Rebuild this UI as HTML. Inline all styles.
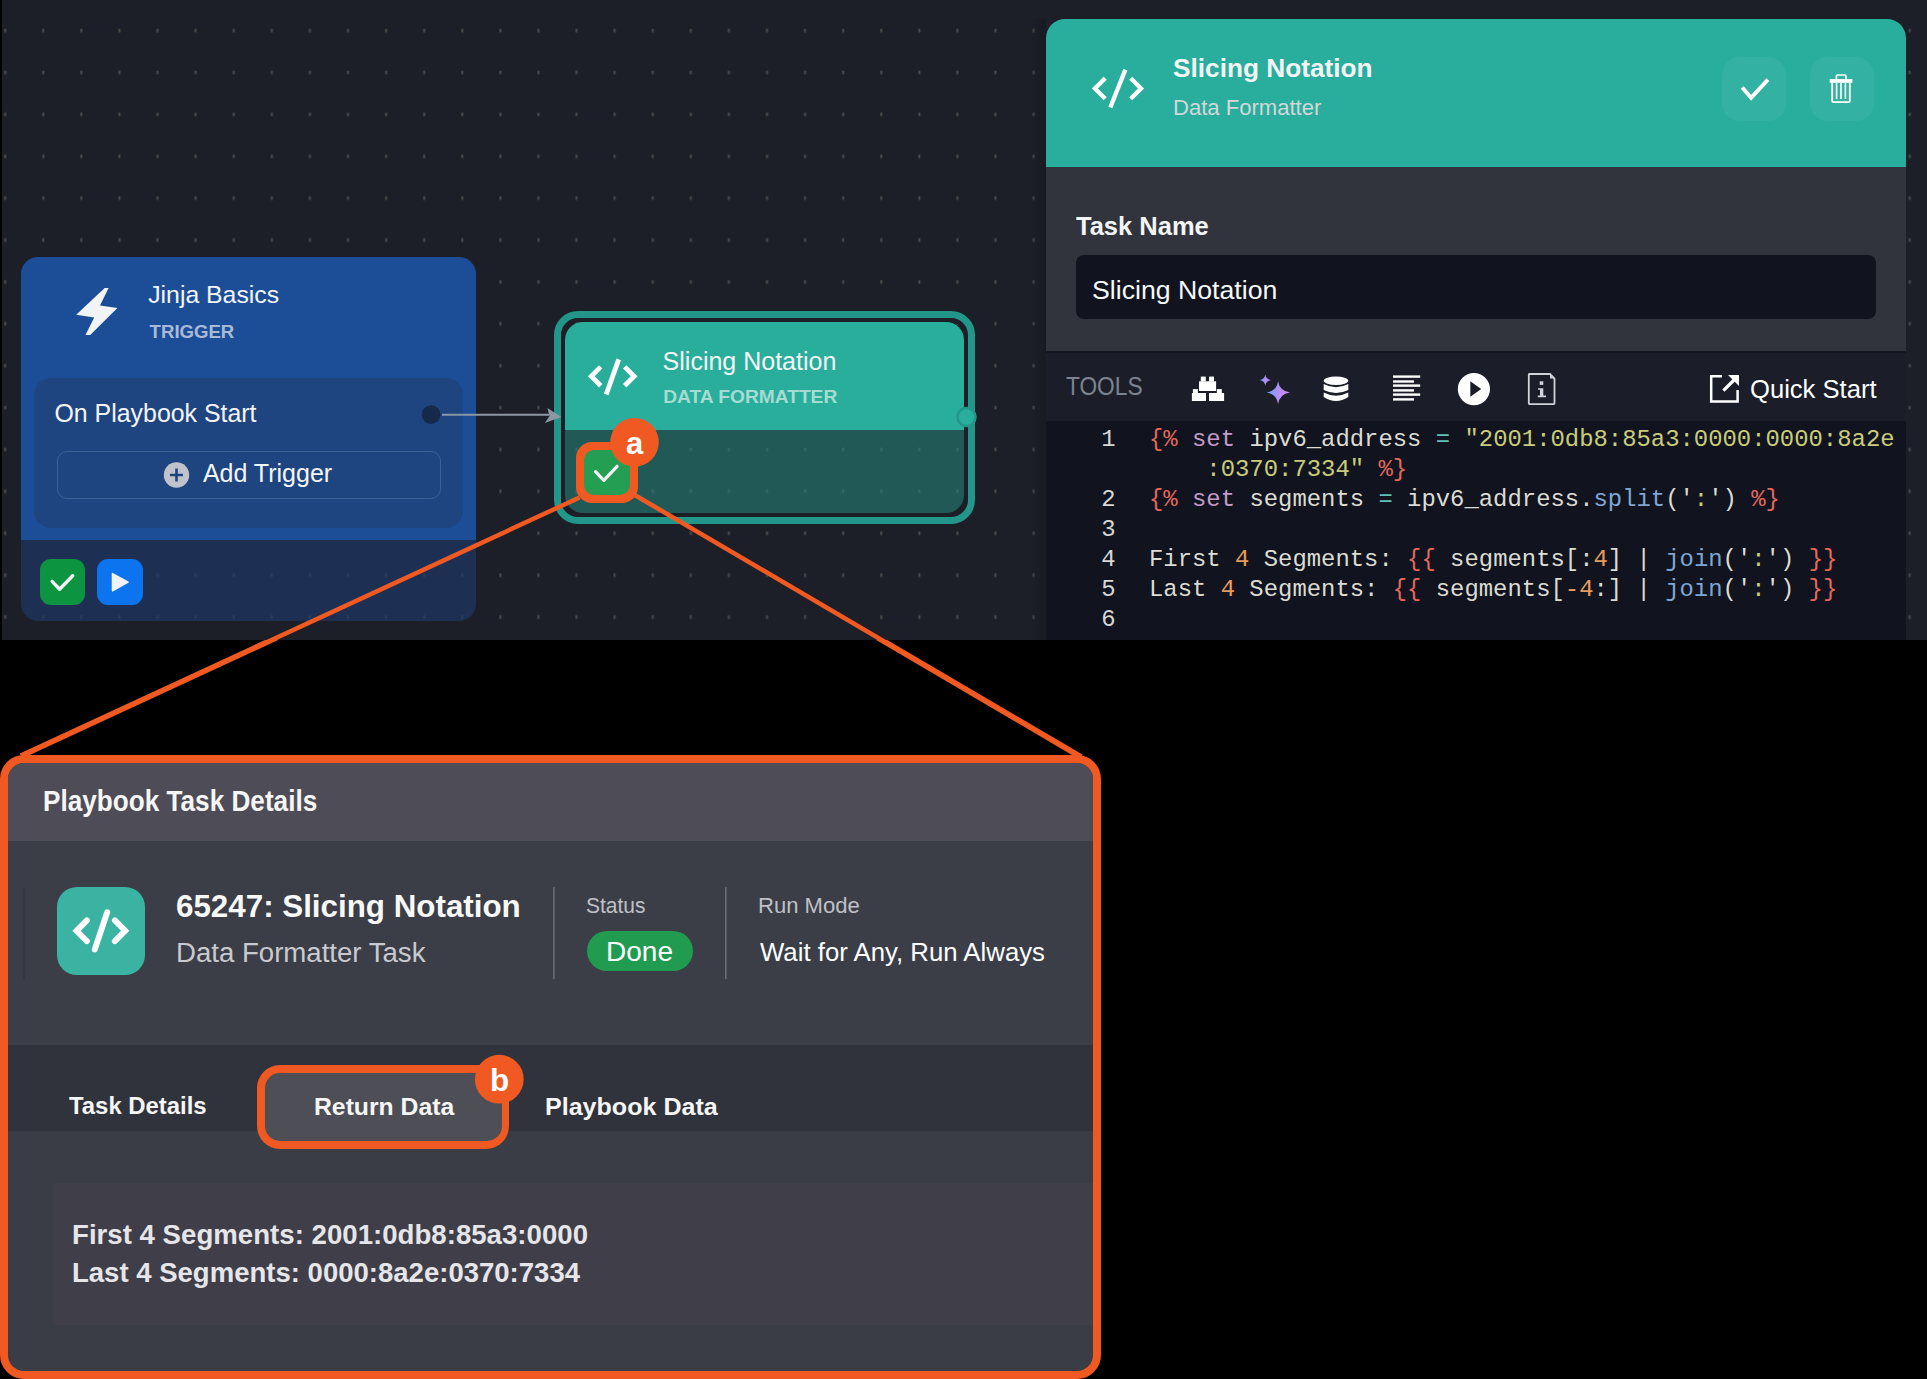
<!DOCTYPE html><html><head><meta charset="utf-8"><style>
*{margin:0;padding:0;box-sizing:border-box}
html,body{width:1927px;height:1379px;background:#000;overflow:hidden;position:relative;font-family:"Liberation Sans",sans-serif}
.a{position:absolute}
.t{position:absolute;white-space:pre;line-height:1}
</style></head><body>
<div class="a" style="left:2px;top:0;width:1925px;height:640px;background:#1c1f28;overflow:hidden">
<svg class="a" style="left:-2px;top:0" width="1927" height="640"><defs><pattern id="dp" x="0" y="0" width="38.09" height="41.89" patternUnits="userSpaceOnUse"><rect x="4.2" y="28.8" width="2" height="3.6" fill="#4b4b48"/></pattern></defs><rect x="0" y="0" width="1927" height="640" fill="url(#dp)"/></svg>
</div>
<div class="a" style="left:21px;top:257px;width:455px;height:364px;border-radius:17px;overflow:hidden"><div class="a" style="left:0;top:0;width:455px;height:283px;background:#1c4e98"></div><div class="a" style="left:0;top:283px;width:455px;height:81px;background:rgba(30,55,100,0.72)"></div></div>
<svg class="a" style="left:0;top:0" width="480" height="640"><path d="M104.7 288 L108.6 288 L100 305.4 L117.4 308 L90.2 335 L85.5 335 L94.2 317.6 L76.2 314.7 Z" fill="#f2f3f5"/></svg>
<div class="t" style="left:148.2px;top:283.0px;font-size:24.80px;color:#f4f5f7;">Jinja Basics</div>
<div class="t" style="left:149.6px;top:323.3px;font-size:18.60px;color:#a9bad8;font-weight:700;">TRIGGER</div>
<div class="a" style="left:34px;top:378.3px;width:429px;height:149.3px;border-radius:17px;background:#1f4580"></div>
<div class="t" style="left:54.5px;top:400.9px;font-size:24.90px;color:#f4f5f7;">On Playbook Start</div>
<div class="a" style="left:56.5px;top:451px;width:384px;height:48px;border-radius:10px;border:1.5px solid #3d5f94"></div>
<svg class="a" style="left:0;top:0" width="480" height="640"><circle cx="176.5" cy="475" r="12.7" fill="#c0c3cb"/><path d="M170 475 H183 M176.5 468.5 V481.5" stroke="#1f4580" stroke-width="2.6"/></svg>
<div class="t" style="left:202.9px;top:461.1px;font-size:25.00px;color:#f4f5f7;">Add Trigger</div>
<svg class="a" style="left:0;top:0" width="1000" height="640"><circle cx="431.1" cy="414.6" r="9.4" fill="#15294a"/></svg>
<div class="a" style="left:39.8px;top:559px;width:45.7px;height:46px;border-radius:11px;background:#0c9441"></div>
<div class="a" style="left:97px;top:559px;width:45.8px;height:46px;border-radius:11px;background:#0b74ee"></div>
<svg class="a" style="left:0;top:0" width="200" height="640"><path d="M52.1 581.4 L59.6 589.2 L72.7 575.8" fill="none" stroke="#f2f3f5" stroke-width="3.4" stroke-linecap="round" stroke-linejoin="round"/><path d="M112.5 573.6 L128.1 582.1 L112.5 590.8 Z" fill="#f2f3f5" stroke="#f2f3f5" stroke-width="1.6" stroke-linejoin="round"/></svg>
<div class="a" style="left:553.5px;top:310.8px;width:421.4px;height:213px;border-radius:24px;border:7.8px solid #23968a"></div>
<div class="a" style="left:561.3px;top:318.6px;width:405.8px;height:197.4px;border-radius:17px;border:3.8px solid #1c1f28"></div>
<div class="a" style="left:565px;top:322px;width:398.5px;height:190.7px;border-radius:18px;overflow:hidden"><div class="a" style="left:0;top:0;width:100%;height:108.2px;background:#29ae9c"></div><div class="a" style="left:0;top:108.2px;width:100%;height:83px;background:rgba(36,129,119,0.6)"></div></div>
<svg class="a" style="left:0;top:0" width="1000" height="640"><path d="M600.70 366.90 L591.30 376.30 L600.70 385.70 M624.70 366.90 L634.10 376.30 L624.70 385.70" fill="none" stroke="#fff" stroke-width="4.8" stroke-linecap="butt" stroke-linejoin="miter"/><path d="M618.7 359.34 L606.2 394.46" stroke="#fff" stroke-width="4.8" stroke-linecap="butt"/><circle cx="966.5" cy="417" r="9" fill="#29ae9c" stroke="#23968a" stroke-width="2.6"/></svg>
<svg class="a" style="left:0;top:0" width="1000" height="640"><path d="M442 414.8 H549" stroke="#8d96a3" stroke-width="2"/><path d="M561.4 417 L547.4 407.9 L549.5 416 L544.8 423 Z" fill="#8d96a3"/></svg>
<div class="t" style="left:662.6px;top:348.6px;font-size:25.00px;color:#f4f5f7;">Slicing Notation</div>
<div class="t" style="left:663.2px;top:386.6px;font-size:19.20px;color:#a6dbd3;font-weight:700;">DATA FORMATTER</div>
<div class="a" style="left:1028px;top:19px;width:18px;height:621px;background:linear-gradient(to right, rgba(10,12,16,0), rgba(10,12,16,0.22))"></div>
<div class="a" style="left:1046px;top:19px;width:860px;height:621px;border-radius:19px 19px 0 0;overflow:hidden;background:#11141e"><div class="a" style="left:0;top:0;width:100%;height:148px;background:#29ad9c"></div><div class="a" style="left:0;top:148px;width:100%;height:184px;background:#31343c"></div><div class="a" style="left:0;top:332px;width:100%;height:1.6px;background:#141720"></div><div class="a" style="left:0;top:333.5px;width:100%;height:68.5px;background:#1b1e28"></div></div>
<svg class="a" style="left:0;top:0" width="1927" height="640"><path d="M1105.18 78.17 L1094.90 88.45 L1105.18 98.73 M1130.72 78.17 L1141.00 88.45 L1130.72 98.73" fill="none" stroke="#fff" stroke-width="4.3" stroke-linecap="butt" stroke-linejoin="miter"/><path d="M1125.4 69.6 L1110.3 107.5" stroke="#fff" stroke-width="4.3" stroke-linecap="butt"/></svg>
<div class="t" style="left:1172.6px;top:55.5px;font-size:25.00px;color:#f3f4f5;font-weight:700;transform:scaleX(1.0485);transform-origin:0 0;">Slicing Notation</div>
<div class="t" style="left:1172.5px;top:97.1px;font-size:22.10px;color:#d3d7d9;transform:scaleX(0.9980);transform-origin:0 0;">Data Formatter</div>
<div class="a" style="left:1722px;top:56.7px;width:63.8px;height:64.4px;border-radius:18px;background:#33b1a3"></div>
<div class="a" style="left:1810px;top:56.7px;width:63.6px;height:64.4px;border-radius:18px;background:#33b1a3"></div>
<svg class="a" style="left:0;top:0" width="1927" height="640"><path d="M1742.2 87.5 L1751.1 97.8 L1767.9 79.6" fill="none" stroke="#fff" stroke-width="3.8"/><rect x="1829.7" y="79.1" width="22.7" height="3.7" fill="#fff"/><path d="M1836.4 79.1 V76.2 Q1836.4 75 1837.6 75 H1844.8 Q1846 75 1846 76.2 V79.1" fill="none" stroke="#fff" stroke-width="1.7"/><path d="M1832.2 82.8 V101 Q1832.2 102.2 1833.4 102.2 H1848.6 Q1849.8 102.2 1849.8 101 V82.8" fill="none" stroke="#fff" stroke-width="1.8"/><path d="M1836.6 83 V99 M1841 83 V99 M1845.4 83 V99" stroke="#fff" stroke-width="1.6"/></svg>
<div class="t" style="left:1075.8px;top:213.7px;font-size:25.30px;color:#f3f4f5;font-weight:700;transform:scaleX(1.0082);transform-origin:0 0;">Task Name</div>
<div class="a" style="left:1075.9px;top:255px;width:800.4px;height:64px;border-radius:8px;background:#11141e"></div>
<div class="t" style="left:1092.4px;top:277.5px;font-size:25.40px;color:#f6f7f8;transform:scaleX(1.0505);transform-origin:0 0;">Slicing Notation</div>
<div class="t" style="left:1065.7px;top:373.7px;font-size:25.40px;color:#7d8390;transform:scaleX(0.8943);transform-origin:0 0;">TOOLS</div>
<div class="t" style="left:1749.7px;top:377.2px;font-size:25.60px;color:#ffffff;transform:scaleX(0.9999);transform-origin:0 0;">Quick Start</div>
<svg class="a" style="left:0;top:0" width="1927" height="640"><defs><linearGradient id="sg" x1="0" y1="0" x2="1" y2="0"><stop offset="0" stop-color="#62a6f8"/><stop offset="0.55" stop-color="#b98cf6"/><stop offset="1" stop-color="#cf8af0"/></linearGradient></defs><g fill="#fff"><rect x="1199" y="381.3" width="17.1" height="9.7"/><rect x="1200.8" y="376.6" width="5" height="5"/><rect x="1209" y="376.6" width="5" height="5"/><rect x="1191.9" y="393" width="14.1" height="8"/><rect x="1192.9" y="389.1" width="5" height="4"/><rect x="1209" y="393" width="15.1" height="8"/><rect x="1216.8" y="389.1" width="5" height="4"/></g><path d="M1278.1 381.3 Q1279.5 391 1290 392.4 Q1279.5 394 1278.1 404.1 Q1276.7 394 1266.7 392.4 Q1276.7 391 1278.1 381.3 Z" fill="url(#sg)"/><path d="M1265.3 374.5 Q1266 379.3 1271 380 Q1266 380.8 1265.3 385.5 Q1264.6 380.8 1259.6 380 Q1264.6 379.3 1265.3 374.5 Z" fill="url(#sg)"/><g fill="#fff"><ellipse cx="1336" cy="380.8" rx="12.3" ry="4.2"/><path d="M1323.7 384 Q1336 390.5 1348.3 384 V390 Q1336 396 1323.7 390 Z"/><path d="M1323.7 392.6 Q1336 399 1348.3 392.6 V397 Q1336 405 1323.7 397 Z"/></g><g fill="#fff"><rect x="1393" y="375.4" width="27.2" height="2.4"/><rect x="1393" y="380.3" width="21" height="2.4"/><rect x="1393" y="384.4" width="27.2" height="2.4"/><rect x="1393" y="389.2" width="21" height="2.4"/><rect x="1393" y="393.4" width="27.2" height="2.4"/><rect x="1393" y="398.2" width="21" height="2.4"/></g><circle cx="1473.9" cy="389.1" r="16.1" fill="#fff"/><path d="M1470.3 381.3 L1481.2 389.1 L1470.3 396.8 Z" fill="#1b1e28"/><path d="M1529.3 374 H1550 L1554.5 378.5 V403.3 Q1554.5 404.2 1553.6 404.2 H1529.3 Q1528.8 404.2 1528.8 403.3 V374.9 Q1528.8 374 1529.3 374 Z" fill="none" stroke="#d0d3d8" stroke-width="1.8"/><path d="M1550 374 V378.5 H1554.5 Z" fill="#d0d3d8"/><rect x="1539.7" y="381.3" width="3.6" height="3.6" fill="#d0d3d8"/><path d="M1538 388.2 H1543.3 V395.6 H1546 V397.2 H1537.8 V395.6 H1540 V389.8 H1538 Z" fill="#d0d3d8"/><path d="M1722 376.2 H1711.2 V401.6 H1737.6 V390" fill="none" stroke="#fff" stroke-width="2.5"/><path d="M1723.4 390.6 L1735 379" stroke="#fff" stroke-width="3.2"/><path d="M1728 375 H1739 V386 Z" fill="#fff"/></svg>
<div class="t" style="left:1101.2px;top:428.3px;width:14.3px;text-align:right;font-family:'Liberation Mono',monospace;font-size:23.9px;color:#d6d6d6">1</div>
<div class="t" style="left:1101.2px;top:488.2px;width:14.3px;text-align:right;font-family:'Liberation Mono',monospace;font-size:23.9px;color:#d6d6d6">2</div>
<div class="t" style="left:1101.2px;top:518.2px;width:14.3px;text-align:right;font-family:'Liberation Mono',monospace;font-size:23.9px;color:#d6d6d6">3</div>
<div class="t" style="left:1101.2px;top:548.2px;width:14.3px;text-align:right;font-family:'Liberation Mono',monospace;font-size:23.9px;color:#d6d6d6">4</div>
<div class="t" style="left:1101.2px;top:578.2px;width:14.3px;text-align:right;font-family:'Liberation Mono',monospace;font-size:23.9px;color:#d6d6d6">5</div>
<div class="t" style="left:1101.2px;top:608.2px;width:14.3px;text-align:right;font-family:'Liberation Mono',monospace;font-size:23.9px;color:#d6d6d6">6</div>
<div class="t" style="left:1149.00px;top:428.3px;font-family:'Liberation Mono',monospace;font-size:23.9px"><span style="color:#e4675d">{%</span><span style="color:#dcdcd4"> </span><span style="color:#c49bc8">set</span><span style="color:#dcdcd4"> ipv6_address </span><span style="color:#5ec3b7">=</span><span style="color:#dcdcd4"> </span><span style="color:#c9cd7a">"2001:0db8:85a3:0000:0000:8a2e</span></div>
<div class="t" style="left:1206.36px;top:458.3px;font-family:'Liberation Mono',monospace;font-size:23.9px"><span style="color:#c9cd7a">:0370:7334"</span><span style="color:#dcdcd4"> </span><span style="color:#e4675d">%}</span></div>
<div class="t" style="left:1149.00px;top:488.2px;font-family:'Liberation Mono',monospace;font-size:23.9px"><span style="color:#e4675d">{%</span><span style="color:#dcdcd4"> </span><span style="color:#c49bc8">set</span><span style="color:#dcdcd4"> segments </span><span style="color:#5ec3b7">=</span><span style="color:#dcdcd4"> ipv6_address.</span><span style="color:#7fa7d6">split</span><span style="color:#dcdcd4">('</span><span style="color:#c9cd7a">:</span><span style="color:#dcdcd4">')</span><span style="color:#dcdcd4"> </span><span style="color:#e4675d">%}</span></div>
<div class="t" style="left:1149.00px;top:548.2px;font-family:'Liberation Mono',monospace;font-size:23.9px"><span style="color:#dcdcd4">First </span><span style="color:#e69a5b">4</span><span style="color:#dcdcd4"> Segments: </span><span style="color:#e4675d">{{</span><span style="color:#dcdcd4"> segments[:</span><span style="color:#e69a5b">4</span><span style="color:#dcdcd4">] | </span><span style="color:#7fa7d6">join</span><span style="color:#dcdcd4">('</span><span style="color:#c9cd7a">:</span><span style="color:#dcdcd4">')</span><span style="color:#dcdcd4"> </span><span style="color:#e4675d">}}</span></div>
<div class="t" style="left:1149.00px;top:578.2px;font-family:'Liberation Mono',monospace;font-size:23.9px"><span style="color:#dcdcd4">Last </span><span style="color:#e69a5b">4</span><span style="color:#dcdcd4"> Segments: </span><span style="color:#e4675d">{{</span><span style="color:#dcdcd4"> segments[</span><span style="color:#e69a5b">-4</span><span style="color:#dcdcd4">:] | </span><span style="color:#7fa7d6">join</span><span style="color:#dcdcd4">('</span><span style="color:#c9cd7a">:</span><span style="color:#dcdcd4">')</span><span style="color:#dcdcd4"> </span><span style="color:#e4675d">}}</span></div>
<svg class="a" style="left:0;top:0" width="1927" height="1379"><defs><clipPath id="ctop"><rect x="0" y="0" width="1927" height="640"/></clipPath><clipPath id="cbot"><rect x="0" y="640" width="1927" height="739"/></clipPath></defs><g clip-path="url(#ctop)"><path d="M579.5 497.5 L21 756" stroke="#f05a22" stroke-width="4.5"/><path d="M633 494 L1081 757" stroke="#f05a22" stroke-width="4.5"/></g><g clip-path="url(#cbot)"><path d="M579.5 497.5 L21 756" stroke="#f05a22" stroke-width="5.6"/><path d="M633 494 L1081 757" stroke="#f05a22" stroke-width="5.6"/></g></svg>
<div class="a" style="left:0;top:755px;width:1101px;height:624px;border-radius:24px;background:#f05a22"></div>
<div class="a" style="left:8.2px;top:762.8px;width:1084.6px;height:608.2px;border-radius:16px;overflow:hidden;background:#3a3d46"><div class="a" style="left:0;top:0;width:100%;height:78.2px;background:#4e4d57"></div><div class="a" style="left:0;top:78.2px;width:100%;height:204px;background:#3b3e47"></div><div class="a" style="left:0;top:282.2px;width:100%;height:85.8px;background:#30333c"></div><div class="a" style="left:45px;top:420.5px;width:1040px;height:141.6px;background:#403f49"></div></div>
<div class="a" style="left:23px;top:887px;width:1.8px;height:91.5px;background:#36373c"></div>
<div class="t" style="left:42.6px;top:787.1px;font-size:28.80px;color:#f6f6f7;font-weight:700;transform:scaleX(0.9082);transform-origin:0 0;">Playbook Task Details</div>
<div class="a" style="left:56.7px;top:886.5px;width:88px;height:88.5px;border-radius:20px;background:#3bb3a3"></div>
<svg class="a" style="left:0;top:0" width="1101" height="1379"><path d="M86.85 920.45 L76.50 930.80 L86.85 941.15 M114.85 920.45 L125.20 930.80 L114.85 941.15" fill="none" stroke="#fff" stroke-width="5.9" stroke-linecap="round" stroke-linejoin="miter"/><path d="M107.2 912.3 L94.8 949.4" stroke="#fff" stroke-width="5.9" stroke-linecap="round"/><path d="M553.9 887 V979" stroke="#6b6c73" stroke-width="1.6"/><path d="M725.8 887 V979" stroke="#6b6c73" stroke-width="1.6"/></svg>
<div class="t" style="left:175.5px;top:891.1px;font-size:31.10px;color:#f8f8f9;font-weight:700;transform:scaleX(1.0077);transform-origin:0 0;">65247: Slicing Notation</div>
<div class="t" style="left:175.5px;top:939.6px;font-size:27.00px;color:#c9cacf;transform:scaleX(1.0220);transform-origin:0 0;">Data Formatter Task</div>
<div class="t" style="left:586.1px;top:895.4px;font-size:22.20px;color:#bfc0c5;transform:scaleX(0.9454);transform-origin:0 0;">Status</div>
<div class="a" style="left:586.8px;top:930.6px;width:106.2px;height:40.2px;border-radius:20px;background:#209b50"></div>
<div class="t" style="left:605.8px;top:937.6px;font-size:27.60px;color:#ffffff;transform:scaleX(1.0170);transform-origin:0 0;">Done</div>
<div class="t" style="left:758.3px;top:895.4px;font-size:22.20px;color:#bfc0c5;transform:scaleX(0.9939);transform-origin:0 0;">Run Mode</div>
<div class="t" style="left:759.7px;top:939.5px;font-size:25.40px;color:#ffffff;transform:scaleX(1.0149);transform-origin:0 0;">Wait for Any, Run Always</div>
<div class="t" style="left:69.0px;top:1094.1px;font-size:24.70px;color:#f6f6f7;font-weight:700;transform:scaleX(0.9677);transform-origin:0 0;">Task Details</div>
<div class="a" style="left:257.2px;top:1064.8px;width:252.2px;height:84.1px;border-radius:23px;background:#f05a22"></div>
<div class="a" style="left:265px;top:1072.8px;width:236.9px;height:68.1px;border-radius:15px;background:#4e4e56"></div>
<div class="t" style="left:314.1px;top:1094.9px;font-size:24.70px;color:#f6f6f7;font-weight:700;transform:scaleX(1.0022);transform-origin:0 0;">Return Data</div>
<div class="t" style="left:545.1px;top:1095.1px;font-size:24.70px;color:#f6f6f7;font-weight:700;transform:scaleX(1.0152);transform-origin:0 0;">Playbook Data</div>
<div class="t" style="left:72.3px;top:1220.9px;font-size:28.00px;color:#e6e6ea;font-weight:700;transform:scaleX(0.9868);transform-origin:0 0;">First 4 Segments: 2001:0db8:85a3:0000</div>
<div class="t" style="left:72.3px;top:1258.7px;font-size:28.00px;color:#e6e6ea;font-weight:700;transform:scaleX(0.9831);transform-origin:0 0;">Last 4 Segments: 0000:8a2e:0370:7334</div>
<div class="a" style="left:576.3px;top:442px;width:61.6px;height:61px;border-radius:16px;background:#f05a22"></div>
<div class="a" style="left:584px;top:450px;width:46.1px;height:45px;border-radius:10px;background:#239e52"></div>
<svg class="a" style="left:0;top:0" width="1000" height="640"><path d="M595.5 471.7 L603.8 480.4 L617.1 466.3" fill="none" stroke="#f2f3f5" stroke-width="3.2" stroke-linecap="round" stroke-linejoin="round"/><circle cx="634.5" cy="442.2" r="24.3" fill="#f05a22"/></svg>
<svg class="a" style="left:0;top:0" width="1101" height="1379"><circle cx="499.3" cy="1079.2" r="24.4" fill="#f05a22"/></svg>
<div class="t" style="left:625.7px;top:427.6px;font-size:31.00px;color:#ffffff;font-weight:700;transform:scaleX(0.9976);transform-origin:0 0;">a</div>
<div class="t" style="left:489.7px;top:1065.0px;font-size:31.00px;color:#ffffff;font-weight:700;transform:scaleX(1.0139);transform-origin:0 0;">b</div>
</body></html>
